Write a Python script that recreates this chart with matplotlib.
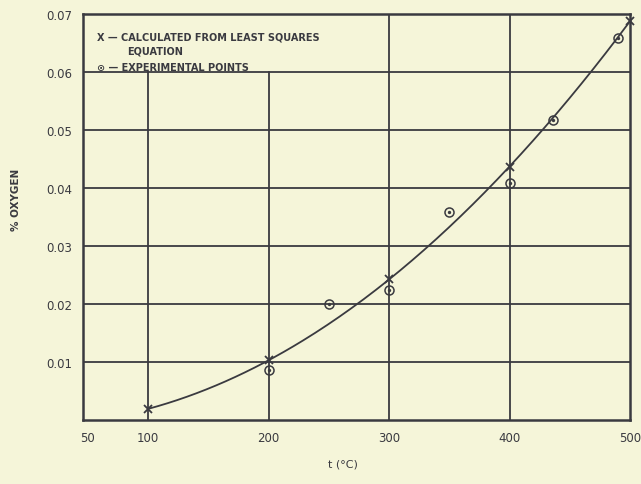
import numpy as np
import matplotlib
matplotlib.use("Agg")
import matplotlib.pyplot as plt

# data
calc_t = [100, 200, 300, 400, 500]
calc_o = [0.0019, 0.0103, 0.0243, 0.0436, 0.0688]
exp_t = [200, 250, 300, 350, 400, 436, 490]
exp_o = [0.0087, 0.0200, 0.0224, 0.0359, 0.0409, 0.0517, 0.0659]
xticks = [50, 100, 200, 300, 400, 500]
yticks = [0.01, 0.02, 0.03, 0.04, 0.05, 0.06, 0.07]

bg = "#f5f5d9"
ink = "#3a3a40"

fig = plt.figure(figsize=(6.41, 4.85), dpi=100, facecolor=bg)
ax = fig.add_axes([83/641, 1-421/485, (630-83)/641, (421-15)/485])
ax.set_facecolor(bg)
ax.set_xlim(46, 500)
ax.set_ylim(0, 0.07)

# grid
for t in [100, 200]:
    ax.axvline(t, ymax=0.06/0.07, color=ink, lw=1.3, zorder=1)
for t in [300, 400]:
    ax.axvline(t, color=ink, lw=1.3, zorder=1)
for y in yticks[:-1]:
    ax.axhline(y, color=ink, lw=1.3, zorder=1)

for s in ax.spines.values():
    s.set_color(ink)
    s.set_linewidth(1.8)

# least squares curve
coef = np.polyfit(calc_t, calc_o, 2)
tt = np.linspace(calc_t[0], calc_t[-1], 200)
ax.plot(tt, np.polyval(coef, tt), color=ink, lw=1.3, zorder=3)
ax.plot(calc_t, calc_o, ls="none", marker="x", ms=6, mew=1.3, color=ink, zorder=4, clip_on=False)
ax.plot(exp_t, exp_o, ls="none", marker="o", ms=6.5, mfc="none", mew=1.1, mec=ink, zorder=4, clip_on=False)
ax.plot(exp_t, exp_o, ls="none", marker="o", ms=1.4, color=ink, zorder=4, clip_on=False)

ax.set_xticks(xticks)
ax.set_xticklabels([str(v) for v in xticks])
ax.set_yticks(yticks)
ax.set_yticklabels([f"{v:.2f}" for v in yticks])
ax.tick_params(length=0, colors=ink, labelsize=8.5, pad=8)
for lab in ax.get_xticklabels() + ax.get_yticklabels():
    lab.set_color(ink)

fig.text(16/641, 1-200/485, "% OXYGEN", rotation=90, ha="center", va="center",
         fontsize=7.5, color=ink, fontweight="bold")
fig.text(343/641, 1-465/485, "t (°C)", ha="center", va="center", fontsize=8, color=ink)

lk = dict(fontsize=7, color=ink, va="center", ha="left", fontweight="bold")
fig.text(97/641, 1-38/485, "X — CALCULATED FROM LEAST SQUARES", **lk)
fig.text(127/641, 1-52/485, "EQUATION", **lk)
fig.text(97/641, 1-68/485, "⊙ — EXPERIMENTAL POINTS", **lk)

fig.savefig("out.png", dpi=100, facecolor=bg)
